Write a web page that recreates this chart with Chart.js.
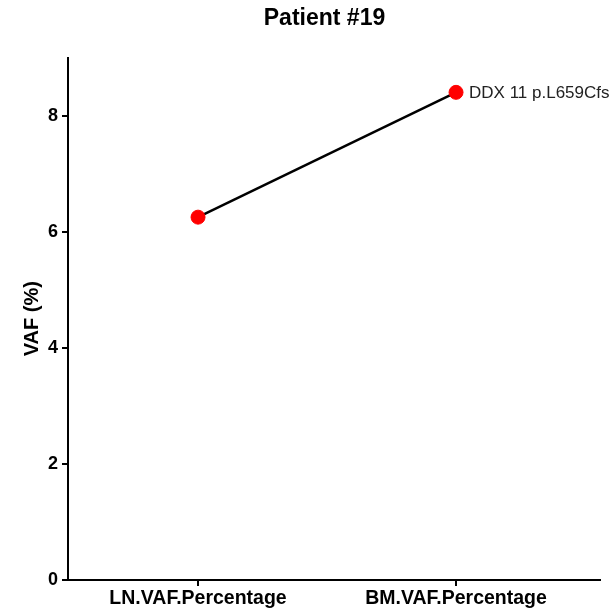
<!DOCTYPE html>
<html lang="en">
<head>
  <meta charset="UTF-8">
  <title>Patient #19</title>
  <script src="https://cdn.jsdelivr.net/npm/chart.js"></script>
  <style>
    html, body { margin: 0; padding: 0; background: #fff; }
    #wrap { width: 613px; height: 614px; }
  </style>
</head>
<body>
  <div id="wrap"><canvas id="vafChart"></canvas></div>
  <script>
    // dados do gráfico
    const categories = ['LN.VAF.Percentage', 'BM.VAF.Percentage'];
    const vafValues = [6.25, 8.4];
    const yTicks = [0, 2, 4, 6, 8];
    const chartTitle = 'Patient #19';
    const mutationLabel = 'DDX 11 p.L659Cfs';

    const fontFamily = '"Liberation Sans", Arial, sans-serif';

    // título (um pouco à direita do centro, como no original) e rótulo do último ponto
    const textLayer = {
      id: 'textLayer',
      afterDatasetsDraw(chart) {
        const ctx = chart.ctx;
        ctx.save();
        ctx.fillStyle = '#000';
        ctx.textBaseline = 'middle';
        ctx.textAlign = 'center';
        ctx.font = 'bold 23px ' + fontFamily;
        ctx.fillText(chartTitle, 324.5, 19);

        const meta = chart.getDatasetMeta(0);
        const last = meta.data[meta.data.length - 1];
        ctx.font = '17px ' + fontFamily;
        ctx.fillStyle = '#222';
        ctx.textAlign = 'left';
        ctx.fillText(mutationLabel, last.x + 13, last.y + 1);
        ctx.restore();
      }
    };

    new Chart(document.getElementById('vafChart'), {
      type: 'line',
      data: {
        datasets: [{
          data: vafValues.map((v, i) => ({ x: i, y: v })),
          borderColor: '#000',
          borderWidth: 2.5,
          pointBackgroundColor: '#ff0000',
          pointBorderColor: '#ff0000',
          pointRadius: 7,
          pointBorderWidth: 1,
          fill: false
        }]
      },
      options: {
        responsive: true,
        maintainAspectRatio: false,
        animation: false,
        layout: { padding: { left: 0, right: 13, top: 57.5, bottom: 0 } },
        plugins: {
          legend: { display: false },
          tooltip: { enabled: false },
          title: { display: false }
        },
        scales: {
          x: {
            type: 'linear',
            min: -0.504,
            max: 1.558,
            afterBuildTicks: s => { s.ticks = categories.map((_, i) => ({ value: i })); },
            afterFit: s => { s.height = 34; },
            border: { color: '#000', width: 2 },
            grid: { drawOnChartArea: false, color: '#000', lineWidth: 2, tickLength: 6 },
            ticks: {
              color: '#000',
              padding: 1,
              maxRotation: 0,
              font: { family: fontFamily, size: 19.5, weight: 'bold' },
              callback: v => categories[v]
            }
          },
          y: {
            min: 0,
            max: 9,
            afterBuildTicks: s => { s.ticks = yTicks.map(v => ({ value: v })); },
            afterFit: s => { s.width = 68; },
            border: { color: '#000', width: 2 },
            grid: { drawOnChartArea: false, color: '#000', lineWidth: 2, tickLength: 6 },
            ticks: {
              color: '#000',
              padding: 4,
              font: { family: fontFamily, size: 18, weight: 'bold' }
            },
            title: {
              display: true,
              text: 'VAF (%)',
              color: '#000',
              padding: { top: 20, bottom: 0 },
              font: { family: fontFamily, size: 20, weight: 'bold' }
            }
          }
        }
      },
      plugins: [textLayer]
    });
  </script>
</body>
</html>
